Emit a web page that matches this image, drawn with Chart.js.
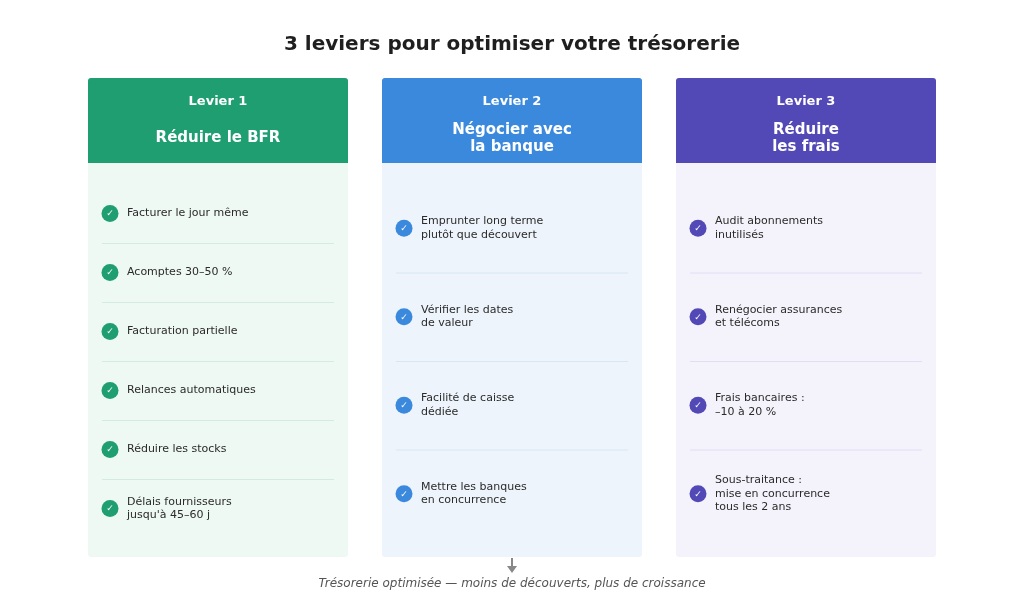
<!DOCTYPE html>
<html><head><meta charset="utf-8">
<script src="https://cdn.jsdelivr.net/npm/chart.js@4"></script>
<style>html,body{margin:0;background:#fff}#c{display:block}</style>
</head><body>
<div style="width:1024px;height:599px"><canvas id="c"></canvas></div>
<script>
// données
const title = '3 leviers pour optimiser votre trésorerie';
const levers = ['Levier 1', 'Levier 2', 'Levier 3'];
const leverTitles = [['Réduire le BFR'], ['Négocier avec', 'la banque'], ['Réduire', 'les frais']];
const items1 = [['Facturer le jour même'], ['Acomptes 30–50 %'], ['Facturation partielle'], ['Relances automatiques'], ['Réduire les stocks'], ['Délais fournisseurs', "jusqu'à 45–60 j"]];
const items2 = [['Emprunter long terme', 'plutôt que découvert'], ['Vérifier les dates', 'de valeur'], ['Facilité de caisse', 'dédiée'], ['Mettre les banques', 'en concurrence']];
const items3 = [['Audit abonnements', 'inutilisés'], ['Renégocier assurances', 'et télécoms'], ['Frais bancaires :', '–10 à 20 %'], ['Sous-traitance :', 'mise en concurrence', 'tous les 2 ans']];
const footer = 'Trésorerie optimisée — moins de découverts, plus de croissance';

const headColors = ['#1f9e72', '#3a89dc', '#5249b6'];
const bodyColors = ['#eff9f3', '#edf4fb', '#f4f3fb'];
const lineColors = ['#d3ece0', '#d6e6f4', '#e0def2'];
const allItems = [items1, items2, items3];
const FONT = '"DejaVu Sans", sans-serif';

const board = {
  id: 'board',
  afterDraw(chart) {
    const g = chart.ctx;
    g.save();
    g.textBaseline = 'middle';
    g.textAlign = 'center';
    g.fillStyle = '#1f1f1f';
    g.font = 'bold 20px ' + FONT;
    g.fillText(title, 512, 45);
    levers.forEach((lv, i) => {
      const x = 88 + i * 294, w = 260;
      g.fillStyle = bodyColors[i];
      g.beginPath(); g.roundRect(x, 78, w, 479, 3); g.fill();
      g.fillStyle = headColors[i];
      g.beginPath(); g.roundRect(x, 78, w, 85, [3, 3, 0, 0]); g.fill();
      g.fillStyle = '#fff';
      g.textAlign = 'center';
      g.font = 'bold 13px ' + FONT;
      g.fillText(lv, x + w / 2, 102);
      g.font = 'bold 15px ' + FONT;
      const t = leverTitles[i];
      t.forEach((s, k) => g.fillText(s, x + w / 2, t.length == 1 ? 138 : 130 + k * 17));
      const it = allItems[i];
      const top = 184, h = 354 / it.length;
      it.forEach((lines, k) => {
        const cy = top + h * k + h / 2;
        if (k > 0) {
          g.strokeStyle = lineColors[i]; g.lineWidth = 1;
          g.beginPath(); g.moveTo(x + 14, top + h * k + 0.5); g.lineTo(x + w - 14, top + h * k + 0.5); g.stroke();
        }
        g.fillStyle = headColors[i];
        g.beginPath(); g.arc(x + 22, cy, 8.5, 0, Math.PI * 2); g.fill();
        g.fillStyle = '#fff'; g.font = '9px ' + FONT; g.textAlign = 'center';
        g.fillText('✓', x + 22, cy + 0.5);
        g.fillStyle = '#2b2b2b'; g.font = '11px ' + FONT; g.textAlign = 'left';
        lines.forEach((s, m) => g.fillText(s, x + 39, cy + (m - (lines.length - 1) / 2) * 13.5));
      });
    });
    g.strokeStyle = '#888'; g.fillStyle = '#888'; g.lineWidth = 2;
    g.beginPath(); g.moveTo(512, 558); g.lineTo(512, 567); g.stroke();
    g.beginPath(); g.moveTo(507, 566); g.lineTo(517, 566); g.lineTo(512, 573); g.fill();
    g.fillStyle = '#555'; g.font = 'italic 12px ' + FONT; g.textAlign = 'center';
    g.fillText(footer, 512, 584);
    g.restore();
  }
};

new Chart(document.getElementById('c'), {
  type: 'scatter',
  data: { datasets: [{ data: [] }] },
  options: {
    responsive: true, maintainAspectRatio: false, animation: false,
    plugins: { legend: { display: false }, tooltip: { enabled: false } },
    scales: { x: { display: false }, y: { display: false } }
  },
  plugins: [board]
});
</script>
</body></html>
